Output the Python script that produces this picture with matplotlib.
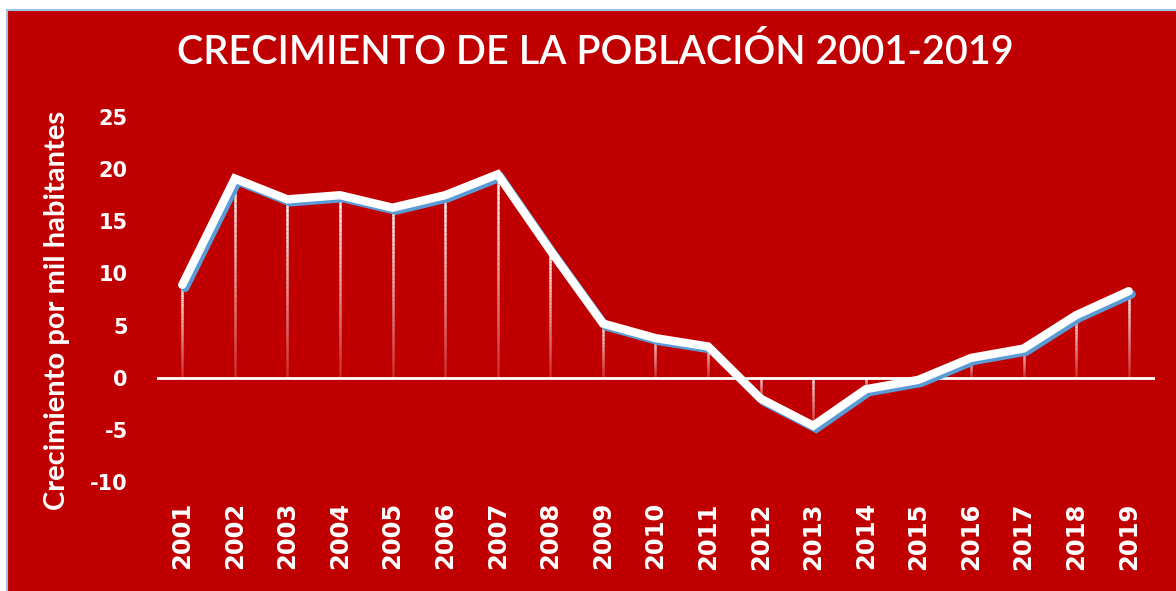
import numpy as np
import matplotlib
matplotlib.use("Agg")
import matplotlib.pyplot as plt
from matplotlib.collections import LineCollection
from matplotlib.patches import Rectangle
import matplotlib.transforms as mtransforms

years = list(range(2001, 2020))
growth = [8.9, 19.1, 17.1, 17.5, 16.3, 17.5, 19.5, 12.2, 5.2, 3.8, 3.0,
          -2.0, -4.6, -1.1, -0.2, 1.9, 2.8, 6.0, 8.3]
yticks = [-10, -5, 0, 5, 10, 15, 20, 25]

RED = "#C00000"
BLUE = "#5B9BD5"
FONT = "Lato"
TICKFONT = "DejaVu Sans"

fig = plt.figure(figsize=(11.76, 5.91), dpi=100, facecolor="white")
W, H = 1176, 591
bg = Rectangle((7 / W, -0.01), 1.01 - 7 / W, 1.01 - 10 / H, transform=fig.transFigure,
               facecolor=RED, edgecolor="#9DC3E6", linewidth=1.5, zorder=-10)
fig.add_artist(bg)

# axes: x 157..1155 px, y: -11 at 492.5, 26 at 106.5
ax = fig.add_axes([157 / W, 1 - 492.5 / H, (1155 - 157) / W, (492.5 - 106.5) / H])
ax.set_zorder(5)
ax.set_facecolor("none")
ax.set_xlim(years[0] - 0.48, years[-1] + 0.5)
ax.set_ylim(-11, 26)
for s in ax.spines.values():
    s.set_visible(False)

# zero line
ax.axhline(0, color="white", lw=2, zorder=2)

# gradient drop lines
nseg = 40
segs, cols = [], []
for x, v in zip(years, growth):
    top, bot = max(v, 0), min(v, 0)
    edges = np.linspace(top, bot, nseg + 1)
    for i in range(nseg):
        segs.append([(x, edges[i]), (x, edges[i + 1])])
        a = 1.0 - 0.85 * (i / nseg)
        cols.append((1, 1, 1, a))
ax.add_collection(LineCollection(segs, colors=cols, linewidths=1.8, zorder=3))

# shadow line
shadow = mtransforms.offset_copy(ax.transData, fig=fig, x=3, y=-3, units="dots")
ax.plot(years, growth, color=BLUE, lw=6, transform=shadow, zorder=4,
        solid_joinstyle="miter", solid_capstyle="round")
ax.plot(years, growth, color="white", lw=6, zorder=5,
        solid_joinstyle="miter", solid_capstyle="round")

ax.set_yticks(yticks)
ax.set_yticklabels([str(t) for t in yticks], fontsize=15, fontweight="bold",
                   color="white", family=TICKFONT)
ax.set_xticks(years)
ax.set_xticklabels([str(y) for y in years], rotation=90, fontsize=17.5,
                   fontweight="bold", color="white", family=TICKFONT)
ax.tick_params(axis="both", length=0)
ax.tick_params(axis="y", pad=21)
ax.tick_params(axis="x", pad=7)

fig.text(57 / W, 1 - 310 / H, "Crecimiento por mil habitantes", rotation=90,
         ha="center", va="center", color="white", fontsize=21,
         fontweight="bold", family=FONT)

fig.text(595 / W, 1 - 52 / H, "CRECIMIENTO DE LA POBLACIÓN 2001-2019",
         ha="center", va="center", color="white", fontsize=28.5,
         fontweight="semibold", family=FONT)

fig.savefig("out.png", dpi=100, facecolor=fig.get_facecolor())
